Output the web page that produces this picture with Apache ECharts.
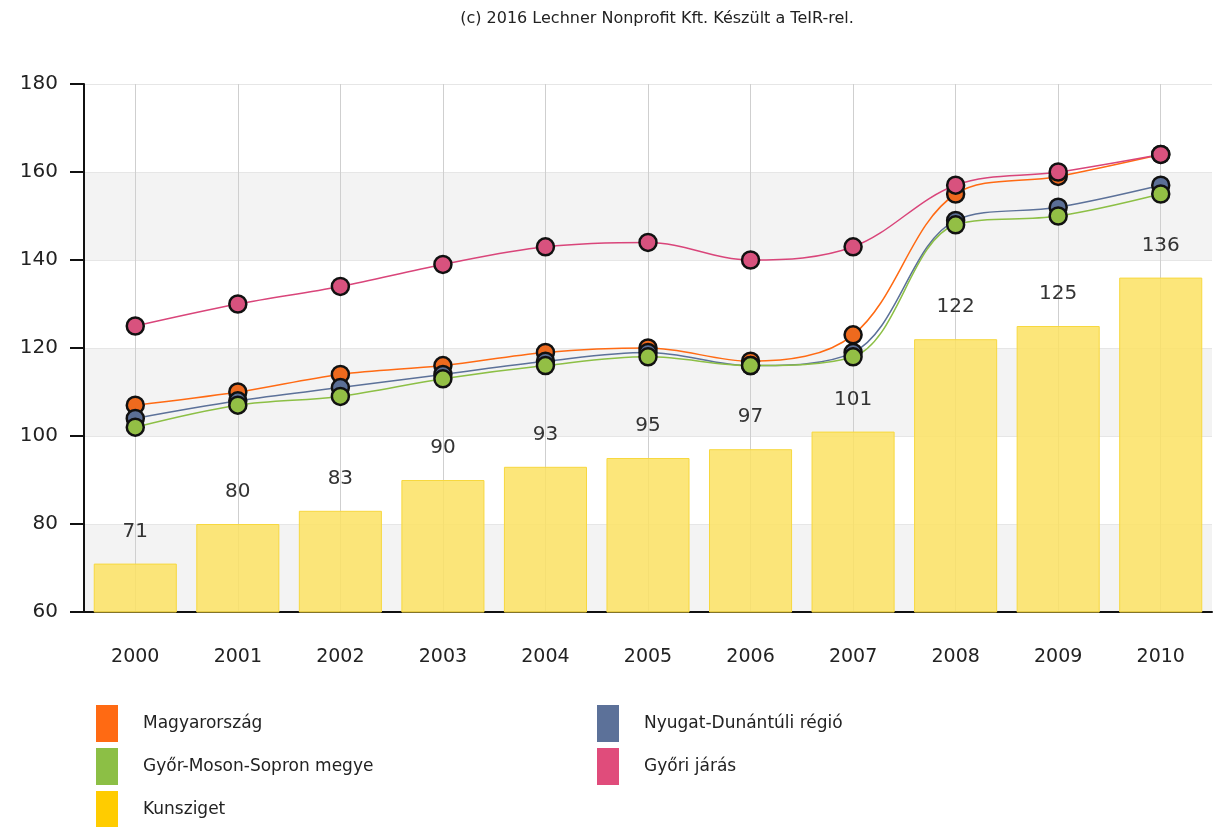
<!DOCTYPE html>
<html>
<head>
<meta charset="utf-8">
<script src="https://cdn.jsdelivr.net/npm/echarts@6/dist/echarts.min.js"></script>
<style>html,body{margin:0;padding:0;background:#fff;}#c{width:1215px;height:827px;}</style>
</head>
<body>
<div id="c"></div>
<script>
const years = ['2000','2001','2002','2003','2004','2005','2006','2007','2008','2009','2010'];
const yTicks = [60, 80, 100, 120, 140, 160, 180];
const magyarorszag = [107, 110, 114, 116, 119, 120, 117, 123, 155, 159, 164];
const nyugatDunantuli = [104, 108, 111, 114, 117, 119, 116, 119, 149, 152, 157];
const gyorMosonSopron = [102, 107, 109, 113, 116, 118, 116, 118, 148, 150, 155];
const gyoriJaras = [125, 130, 134, 139, 143, 144, 140, 143, 157, 160, 164];
const kunsziget = [71, 80, 83, 90, 93, 95, 97, 101, 122, 125, 136];

const FONT = 'DejaVu Sans';
const chart = echarts.init(document.getElementById('c'), null, {renderer: 'canvas'});

function lineSeries(name, data, lineColor, markColor) {
  return {
    name: name, type: 'line', data: data, smooth: 0.35,
    symbol: 'circle', symbolSize: 17,
    lineStyle: {color: lineColor, width: 1.5},
    itemStyle: {color: markColor, borderColor: '#111', borderWidth: 2.5},
    emphasis: {disabled: true}, z: 3
  };
}
function legendAt(name, color, left, top) {
  return {
    data: [{name: name, itemStyle: {color: color, borderWidth: 0}}],
    left: left, top: top, icon: 'rect', itemWidth: 22, itemHeight: 37, itemGap: 0,
    textStyle: {fontFamily: FONT, fontSize: 17, color: '#222', padding: [0, 0, 0, 20]},
    selectedMode: false, padding: 0
  };
}

chart.setOption({
  animation: false,
  backgroundColor: '#fff',
  title: {
    text: '(c) 2016 Lechner Nonprofit Kft. Készült a TeIR-rel.',
    left: 652, top: 6, textAlign: 'center',
    textStyle: {fontFamily: FONT, fontSize: 16, fontWeight: 'normal', color: '#222'}
  },
  legend: [
    legendAt('Magyarország', '#FF6A13', 96, 705),
    legendAt('Nyugat-Dunántúli régió', '#5C7199', 597, 705),
    legendAt('Győr-Moson-Sopron megye', '#8CBF45', 96, 748),
    legendAt('Győri járás', '#E04C7B', 597, 748),
    legendAt('Kunsziget', '#FFCC00', 96, 791)
  ],
  grid: {left: 84, right: 3, top: 84, bottom: 215, containLabel: false},
  xAxis: {
    type: 'category', data: years,
    axisLine: {lineStyle: {color: '#111', width: 2}},
    axisTick: {alignWithLabel: true, length: 12, lineStyle: {color: '#111', width: 2}},
    axisLabel: {fontFamily: FONT, fontSize: 19, color: '#222', margin: 36},
    splitLine: {show: true, alignWithLabel: true, lineStyle: {color: '#cfcfcf', width: 1}}
  },
  yAxis: {
    type: 'value', min: yTicks[0], max: yTicks[yTicks.length - 1], interval: 20,
    axisLine: {show: true, lineStyle: {color: '#111', width: 2}},
    axisTick: {show: true, length: 14, lineStyle: {color: '#111', width: 2}},
    axisLabel: {fontFamily: FONT, fontSize: 20, color: '#222', margin: 26},
    splitLine: {show: true, lineStyle: {color: '#e6e6e6', width: 1}},
    splitArea: {show: true, areaStyle: {color: ['#f3f3f3', '#ffffff']}}
  },
  series: [
    {
      name: 'Kunsziget', type: 'bar', data: kunsziget, barWidth: '81%',
      itemStyle: {color: 'rgba(252,226,100,0.86)', borderColor: '#F7D83F', borderWidth: 1},
      label: {show: true, position: 'top', distance: 22, fontFamily: FONT, fontSize: 20, color: '#333'},
      emphasis: {disabled: true}, z: 2
    },
    lineSeries('Magyarország', magyarorszag, '#FF6A13', '#EE6A1E'),
    lineSeries('Nyugat-Dunántúli régió', nyugatDunantuli, '#5C7199', '#5B6F96'),
    lineSeries('Győr-Moson-Sopron megye', gyorMosonSopron, '#8CBF45', '#93BF45'),
    lineSeries('Győri járás', gyoriJaras, '#D9457A', '#D8527E')
  ]
});
</script>
</body>
</html>
